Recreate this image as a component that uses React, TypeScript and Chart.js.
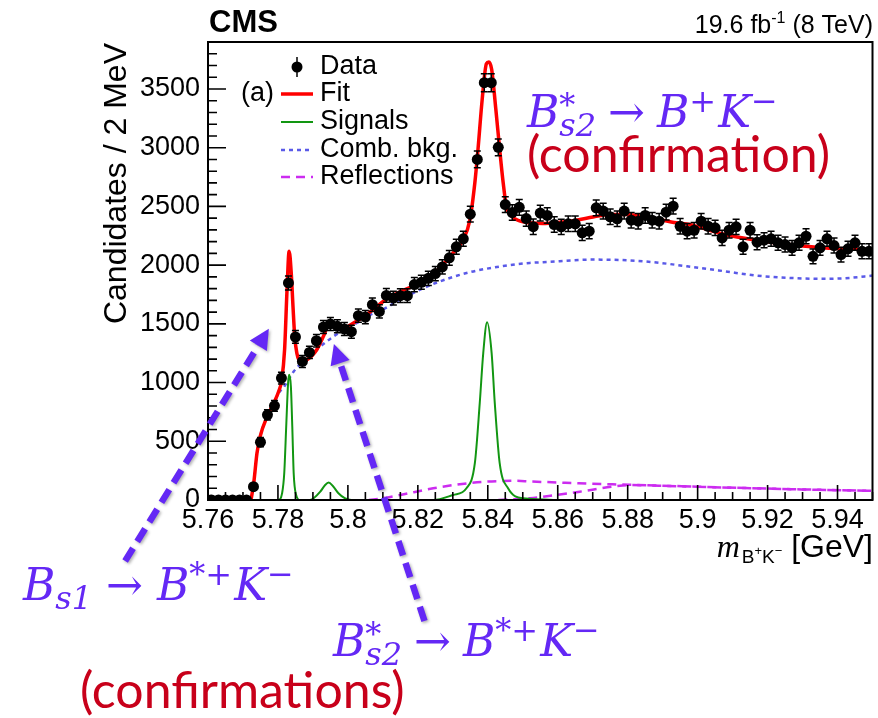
import { useEffect, useRef } from 'react';
import { Chart, registerables } from 'chart.js';

Chart.register(...registerables);

const W = 878;
const H = 718;

const SANS = '"Liberation Sans", Arial, Helvetica, sans-serif';
const SERIF = '"Liberation Serif", "Times New Roman", serif';
const MATH = '"DejaVu Serif", serif';
const NOTE = 'Lato, "Open Sans", sans-serif';

// B+K- invariant mass, 2 MeV bins (bin centres in GeV)
const massBins = [
  5.761, 5.763, 5.765, 5.767, 5.769, 5.771, 5.773, 5.775, 5.777, 5.779,
  5.781, 5.783, 5.785, 5.787, 5.789, 5.791, 5.793, 5.795, 5.797, 5.799,
  5.801, 5.803, 5.805, 5.807, 5.809, 5.811, 5.813, 5.815, 5.817, 5.819,
  5.821, 5.823, 5.825, 5.827, 5.829, 5.831, 5.833, 5.835, 5.837, 5.839,
  5.841, 5.843, 5.845, 5.847, 5.849, 5.851, 5.853, 5.855, 5.857, 5.859,
  5.861, 5.863, 5.865, 5.867, 5.869, 5.871, 5.873, 5.875, 5.877, 5.879,
  5.881, 5.883, 5.885, 5.887, 5.889, 5.891, 5.893, 5.895, 5.897, 5.899,
  5.901, 5.903, 5.905, 5.907, 5.909, 5.911, 5.913, 5.915, 5.917, 5.919,
  5.921, 5.923, 5.925, 5.927, 5.929, 5.931, 5.933, 5.935, 5.937, 5.939,
  5.941, 5.943, 5.945, 5.947, 5.949,
];

const candidates = [
  0, 0, 0, 0, 0, 0, 113, 492, 725, 802,
  1038, 1848, 1388, 1180, 1257, 1356, 1473, 1499, 1479, 1456,
  1433, 1570, 1558, 1663, 1606, 1742, 1720, 1740, 1740, 1834,
  1854, 1888, 1928, 1985, 2062, 2156, 2224, 2434, 2900, 3554,
  3554, 3003, 2516, 2448, 2492, 2396, 2327, 2443, 2423, 2346,
  2326, 2352, 2352, 2275, 2289, 2488, 2460, 2412, 2394, 2460,
  2383, 2374, 2423, 2383, 2374, 2451, 2502, 2331, 2289, 2297,
  2374, 2331, 2318, 2232, 2297, 2326, 2156, 2297, 2195, 2212,
  2224, 2190, 2175, 2147, 2190, 2246, 2075, 2147, 2224, 2167,
  2090, 2139, 2190, 2118, 2118,
];

// Total fit
const fitMass = [
  5.7723, 5.7731, 5.774, 5.7749, 5.7769, 5.7788, 5.7802, 5.7811, 5.7819, 5.7826,
  5.7832, 5.7838, 5.7843, 5.7848, 5.7854, 5.7864, 5.7883, 5.7911, 5.7931, 5.7945,
  5.7964, 5.7988, 5.8016, 5.8054, 5.8111, 5.8158, 5.8206, 5.8253, 5.8301, 5.833,
  5.8349, 5.8363, 5.8372, 5.8384, 5.8396, 5.8403, 5.8411, 5.8423, 5.8434, 5.8444,
  5.8453, 5.8468, 5.8491, 5.852, 5.8558, 5.8606, 5.8653, 5.8701, 5.8749, 5.8796,
  5.8844, 5.8891, 5.8939, 5.8977, 5.9072, 5.9168, 5.9263, 5.9358, 5.95,
];
const fitValues = [
  0, 150, 398, 540, 711, 825, 924, 1024, 1280, 1791,
  2118, 1934, 1649, 1393, 1251, 1180, 1194, 1280, 1400, 1490,
  1490, 1465, 1507, 1580, 1712, 1786, 1848, 1948, 2104, 2218,
  2388, 2701, 2986, 3412, 3715, 3730, 3668, 3327, 2986, 2701,
  2502, 2417, 2376, 2360, 2354, 2366, 2383, 2410, 2431, 2431,
  2417, 2388, 2360, 2346, 2265, 2212, 2175, 2147, 2130,
];

// Signal components (three resonances)
const signalMass = [
  5.778, 5.7802, 5.7812, 5.7818, 5.7824, 5.7829, 5.7832, 5.7837, 5.7841, 5.7845,
  5.7852, 5.7863, 5.789, 5.7902, 5.7921, 5.7935, 5.7945, 5.7957, 5.7973, 5.7991,
  5.801, 5.8244, 5.8301, 5.8339, 5.8363, 5.8377, 5.8387, 5.8398, 5.8411, 5.842,
  5.8434, 5.8458, 5.8501, 5.8606,
];
const signalValues = [
  0, 0, 60, 228, 654, 995, 1066, 967, 625, 228,
  43, 0, 0, 15, 71, 128, 148, 119, 57, 15,
  0, 0, 43, 100, 313, 825, 1251, 1513, 1251, 825,
  313, 100, 14, 0,
];

// Combinatorial background
const bkgMass = [
  5.7723, 5.7731, 5.774, 5.7749, 5.7769, 5.7788, 5.7802, 5.7818, 5.7845, 5.7883,
  5.7921, 5.7959, 5.7997, 5.8035, 5.8063, 5.8092, 5.8158, 5.8253, 5.8349, 5.8444,
  5.852, 5.8558, 5.8701, 5.8844, 5.9006, 5.9072, 5.9168, 5.9263, 5.9358, 5.9434,
  5.95,
];
const bkgValues = [
  0, 150, 398, 540, 711, 820, 910, 967, 1094, 1209,
  1308, 1393, 1465, 1521, 1575, 1610, 1720, 1850, 1940, 1992,
  2019, 2025, 2047, 2033, 1976, 1950, 1911, 1891, 1883, 1891,
  1911,
];

// Reflection components
const reflAMass = [5.806, 5.81, 5.815, 5.8244, 5.832, 5.8396, 5.848, 5.852, 5.866, 5.881, 5.9, 5.915, 5.93, 5.95];
const reflAValues = [0, 15, 43, 100, 134, 156, 163, 158, 143, 129, 113, 101, 90, 78];
const reflBMass = [5.843, 5.852, 5.859, 5.8663, 5.8758, 5.8806, 5.9, 5.915, 5.93, 5.95];
const reflBValues = [0, 14, 40, 71, 114, 127, 113, 101, 90, 78];

const yTickValues = [0, 500, 1000, 1500, 2000, 2500, 3000, 3500];
const xTickValues = [5.76, 5.78, 5.8, 5.82, 5.84, 5.86, 5.88, 5.9, 5.92, 5.94];
const xTickLabels = ['5.76', '5.78', '5.8', '5.82', '5.84', '5.86', '5.88', '5.9', '5.92', '5.94'];

const legendLabels = ['Data', 'Fit', 'Signals', 'Comb. bkg.', 'Reflections'];

const C_FIT = '#ff0000';
const C_SIG = '#129612';
const C_BKG = '#5a5ae8';
const C_REFL = '#cc2cf0';
const C_NOTE = '#6428f5';
const C_CONF = '#c8001a';

// arrow anchors (mass, candidates): tail -> tip
const arrowBs1 = [[5.7363, -520], [5.7774, 1459]];
const arrowBs2 = [[5.8219, -1030], [5.796, 1328]];

const pairs = (xs: number[], ys: number[]) => xs.map((x, i) => ({ x, y: ys[i] }));

type Seg = { t: string; size: number; font?: string; it?: boolean; bold?: boolean; dy?: number; gap?: number; over?: boolean };

function drawSegs(ctx: CanvasRenderingContext2D, segs: Seg[], x: number, y: number, color: string, family: string, align: 'left' | 'right' = 'left') {
  const setFont = (s: Seg) => {
    ctx.font = `${s.it ? 'italic ' : ''}${s.bold ? 'bold ' : ''}${s.size}px ${s.font ?? family}`;
  };
  const starts: number[] = [];
  let cursor = 0;
  let lastStart = 0;
  let lastEnd = 0;
  for (const s of segs) {
    setFont(s);
    const w = ctx.measureText(s.t).width;
    const start = s.over ? lastStart : cursor + (s.gap ?? 0);
    const end = start + w;
    starts.push(start);
    if (s.over) {
      cursor = Math.max(lastEnd, end);
      lastEnd = cursor;
    } else {
      lastStart = start;
      lastEnd = end;
      cursor = end;
    }
  }
  const x0 = align === 'right' ? x - cursor : x;
  ctx.fillStyle = color;
  ctx.textAlign = 'left';
  ctx.textBaseline = 'alphabetic';
  segs.forEach((s, i) => {
    setFont(s);
    ctx.fillText(s.t, x0 + starts[i], y + (s.dy ?? 0));
  });
}

function drawDashedArrow(ctx: CanvasRenderingContext2D, x0: number, y0: number, x1: number, y1: number, color: string) {
  const ang = Math.atan2(y1 - y0, x1 - x0);
  const headLen = 20;
  const headW = 20;
  const bx = x1 - headLen * Math.cos(ang);
  const by = y1 - headLen * Math.sin(ang);
  ctx.save();
  ctx.shadowColor = 'rgba(0,0,0,0.3)';
  ctx.shadowBlur = 3;
  ctx.shadowOffsetX = 1.5;
  ctx.shadowOffsetY = 1.5;
  ctx.strokeStyle = color;
  ctx.fillStyle = color;
  ctx.lineWidth = 6.5;
  ctx.lineCap = 'butt';
  ctx.setLineDash([15, 8]);
  ctx.beginPath();
  ctx.moveTo(x0, y0);
  ctx.lineTo(bx, by);
  ctx.stroke();
  ctx.setLineDash([]);
  ctx.beginPath();
  ctx.moveTo(x1, y1);
  ctx.lineTo(bx + (headW / 2) * Math.sin(ang), by - (headW / 2) * Math.cos(ang));
  ctx.lineTo(bx - (headW / 2) * Math.sin(ang), by + (headW / 2) * Math.cos(ang));
  ctx.closePath();
  ctx.fill();
  ctx.restore();
}

const decorations = {
  id: 'decorations',
  afterDatasetsDraw(chart: any) {
    const { ctx } = chart;
    const xs = chart.scales.x;
    const ys = chart.scales.y;
    // Poisson error bars on the data
    ctx.save();
    ctx.strokeStyle = '#000';
    ctx.lineWidth = 1.5;
    massBins.forEach((m, i) => {
      const n = candidates[i];
      if (n <= 0) return;
      const e = Math.sqrt(n);
      const px = xs.getPixelForValue(m);
      const top = ys.getPixelForValue(n + e) - 2;
      const bot = ys.getPixelForValue(n - e) + 2;
      ctx.beginPath();
      ctx.moveTo(px, top);
      ctx.lineTo(px, bot);
      ctx.moveTo(px - 3.5, top);
      ctx.lineTo(px + 3.5, top);
      ctx.moveTo(px - 3.5, bot);
      ctx.lineTo(px + 3.5, bot);
      ctx.stroke();
    });
    ctx.restore();
  },
  afterDraw(chart: any) {
    const { ctx, chartArea } = chart;
    const { left, right, top, bottom } = chartArea;
    const xs = chart.scales.x;
    const ys = chart.scales.y;
    ctx.save();

    // frame and inward ticks
    ctx.strokeStyle = '#000';
    ctx.lineWidth = 2;
    ctx.strokeRect(left, top, right - left, bottom - top);
    ctx.lineWidth = 1.6;
    ctx.beginPath();
    for (let v = 0; v <= 3900; v += 100) {
      const py = ys.getPixelForValue(v);
      const len = v % 500 === 0 ? 18 : 9;
      ctx.moveTo(left, py);
      ctx.lineTo(left + len, py);
    }
    for (let k = 0; k <= 38; k++) {
      const v = 5.76 + k * 0.005;
      const px = xs.getPixelForValue(v);
      const len = k % 4 === 0 ? 15 : 8;
      ctx.moveTo(px, bottom);
      ctx.lineTo(px, bottom - len);
    }
    ctx.stroke();

    // header
    ctx.fillStyle = '#000';
    ctx.textBaseline = 'alphabetic';
    ctx.textAlign = 'left';
    ctx.font = `bold 31px ${SANS}`;
    ctx.fillText('CMS', 209, 32);
    drawSegs(ctx, [
      { t: '19.6 fb', size: 25 },
      { t: '-1', size: 16, dy: -10 },
      { t: ' (8 TeV)', size: 25 },
    ], 873, 33, '#000', SANS, 'right');

    // axis titles
    ctx.save();
    ctx.translate(126, 43);
    ctx.rotate(-Math.PI / 2);
    ctx.font = `32px ${SANS}`;
    ctx.textAlign = 'right';
    ctx.textBaseline = 'alphabetic';
    ctx.fillStyle = '#000';
    ctx.fillText('Candidates / 2 MeV', 0, 0);
    ctx.restore();
    drawSegs(ctx, [
      { t: 'm', size: 32, font: SERIF, it: true },
      { t: 'B', size: 19, dy: 6, gap: 2 },
      { t: '+', size: 13, dy: -2 },
      { t: 'K', size: 19, dy: 6 },
      { t: '\u2212', size: 13, dy: -2 },
      { t: ' [GeV]', size: 32 },
    ], 873, 557, '#000', SANS, 'right');

    // legend
    const rowY = [67, 94, 122, 150, 177];
    ctx.font = `27px ${SANS}`;
    ctx.textBaseline = 'middle';
    ctx.textAlign = 'left';
    ctx.fillStyle = '#000';
    legendLabels.forEach((lab, i) => ctx.fillText(lab, 320, rowY[i]));
    ctx.fillText('(a)', 241, 94);
    // data marker
    ctx.beginPath();
    ctx.arc(297, rowY[0], 5.5, 0, Math.PI * 2);
    ctx.fill();
    ctx.lineWidth = 1.5;
    ctx.beginPath();
    ctx.moveTo(297, rowY[0] - 10);
    ctx.lineTo(297, rowY[0] + 10);
    ctx.stroke();
    const sample = (y: number, color: string, width: number, dash: number[]) => {
      ctx.save();
      ctx.strokeStyle = color;
      ctx.lineWidth = width;
      ctx.setLineDash(dash);
      ctx.beginPath();
      ctx.moveTo(281, y);
      ctx.lineTo(313, y);
      ctx.stroke();
      ctx.restore();
    };
    sample(rowY[1], C_FIT, 3.5, []);
    sample(rowY[2], C_SIG, 2, []);
    sample(rowY[3], C_BKG, 2.5, [4, 4]);
    sample(rowY[4], C_REFL, 2.5, [9, 6]);

    // annotations
    drawSegs(ctx, [
      { t: 'B', size: 44, it: true },
      { t: '*', size: 32, dy: -11 },
      { t: 's2', size: 32, it: true, dy: 9, over: true },
      { t: '\u2192', size: 44, gap: 12 },
      { t: 'B', size: 44, it: true, gap: 12 },
      { t: '+', size: 32, dy: -15 },
      { t: 'K', size: 44, it: true, gap: 2 },
      { t: '\u2212', size: 32, dy: -15 },
    ], 527, 127, C_NOTE, MATH);
    drawSegs(ctx, [{ t: '(confirmation)', size: 50 }], 527, 172, C_CONF, NOTE);

    drawSegs(ctx, [
      { t: 'B', size: 44, it: true },
      { t: 's1', size: 32, it: true, dy: 9 },
      { t: '\u2192', size: 44, gap: 14 },
      { t: 'B', size: 44, it: true, gap: 14 },
      { t: '*+', size: 32, dy: -15 },
      { t: 'K', size: 44, it: true, gap: 2 },
      { t: '\u2212', size: 32, dy: -15 },
    ], 23, 600, C_NOTE, MATH);
    drawSegs(ctx, [
      { t: 'B', size: 44, it: true },
      { t: '*', size: 32, dy: -11 },
      { t: 's2', size: 32, it: true, dy: 9, over: true },
      { t: '\u2192', size: 44, gap: 12 },
      { t: 'B', size: 44, it: true, gap: 12 },
      { t: '*+', size: 32, dy: -15 },
      { t: 'K', size: 44, it: true, gap: 2 },
      { t: '\u2212', size: 32, dy: -15 },
    ], 333, 656, C_NOTE, MATH);
    drawSegs(ctx, [{ t: '(confirmations)', size: 50 }], 80, 708, C_CONF, NOTE);

    for (const [tail, tip] of [arrowBs1, arrowBs2]) {
      drawDashedArrow(
        ctx,
        xs.getPixelForValue(tail[0]), ys.getPixelForValue(tail[1]),
        xs.getPixelForValue(tip[0]), ys.getPixelForValue(tip[1]),
        C_NOTE,
      );
    }
    ctx.restore();
  },
};

export default function App() {
  const ref = useRef<HTMLCanvasElement>(null);

  useEffect(() => {
    const canvas = ref.current;
    if (!canvas) return;
    const curve = (data: { x: number; y: number }[], color: string, width: number, dash: number[], order: number) => ({
      type: 'line' as const,
      data,
      borderColor: color,
      backgroundColor: color,
      borderWidth: width,
      borderDash: dash,
      pointRadius: 0,
      fill: false,
      cubicInterpolationMode: 'monotone' as const,
      order,
    });
    const chart = new Chart(canvas, {
      type: 'scatter',
      data: {
        datasets: [
          {
            type: 'scatter',
            label: 'Data',
            data: pairs(massBins, candidates),
            pointRadius: 5.5,
            pointBackgroundColor: '#000',
            pointBorderWidth: 0,
            order: 0,
          } as any,
          curve(pairs(fitMass, fitValues), C_FIT, 3.5, [], 1),
          curve(pairs(signalMass, signalValues), C_SIG, 2, [], 2),
          curve(pairs(bkgMass, bkgValues), C_BKG, 2.5, [4, 4], 3),
          curve(pairs(reflAMass, reflAValues), C_REFL, 2.5, [9, 6], 4),
          curve(pairs(reflBMass, reflBValues), C_REFL, 2.5, [9, 6], 5),
        ],
      },
      options: {
        animation: false,
        responsive: false,
        devicePixelRatio: 1,
        events: [],
        layout: { padding: { left: 0, right: 4, top: 42, bottom: 0 } },
        plugins: { legend: { display: false }, tooltip: { enabled: false } },
        scales: {
          x: {
            type: 'linear',
            min: 5.76,
            max: 5.95,
            grid: { display: false, drawTicks: false },
            border: { display: false },
            ticks: {
              autoSkip: false,
              maxRotation: 0,
              padding: 4,
              color: '#000',
              font: { family: SANS, size: 27 },
              callback: (_v: any, i: number) => xTickLabels[i],
            },
            afterBuildTicks: (axis: any) => {
              axis.ticks = xTickValues.map((value) => ({ value }));
            },
            afterFit: (scale: any) => {
              scale.height = H - 500;
            },
          },
          y: {
            type: 'linear',
            min: 0,
            max: 3900,
            grid: { display: false, drawTicks: false },
            border: { display: false },
            ticks: {
              padding: 8,
              color: '#000',
              font: { family: SANS, size: 27 },
              callback: (v: any) => String(v),
            },
            afterBuildTicks: (axis: any) => {
              axis.ticks = yTickValues.map((value) => ({ value }));
            },
            afterFit: (scale: any) => {
              scale.width = 208;
            },
          },
        },
      },
      plugins: [decorations],
    } as any);
    return () => chart.destroy();
  }, []);

  return (
    <div style={{ position: 'absolute', left: 0, top: 0, width: W, height: H, background: '#fff' }}>
      <canvas ref={ref} width={W} height={H} style={{ display: 'block', width: W, height: H }} />
    </div>
  );
}
